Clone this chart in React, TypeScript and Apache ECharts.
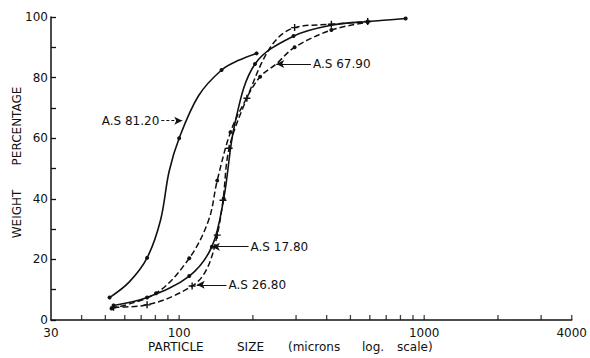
import React, { useEffect, useRef } from "react";
import * as echarts from "echarts";

// Minor tick positions on the log x axis (microns)
const xTickValues = [40, 50, 60, 70, 80, 90, 100, 200, 300, 400, 500, 600, 700, 800, 900, 1000, 2000, 3000, 4000];

// Cumulative weight percentage vs particle size (microns); third value: 1 = plotted marker, 0 = curve reading
const as8120: number[][] = [[52, 7.4, 1], [62.5, 12.5, 0], [74, 20.5, 1], [84, 33, 0], [91, 49, 0], [100, 60, 1], [120, 74, 0], [149, 82.5, 1], [175, 85.7, 0], [207, 88, 1]];
const as1780: number[][] = [[54, 4.8, 1], [74, 7.4, 1], [110, 14.5, 1], [136, 24.2, 1], [152, 40, 1], [169, 65, 0], [204, 84.5, 1], [293, 93.7, 1], [418, 97.3, 0], [588, 98.5, 1], [840, 99.5, 1]];
const as2680: number[][] = [[54, 4.2, 1], [74, 5, 1], [113, 11.2, 1], [130, 17, 0], [143, 28, 1], [151, 39.5, 1], [160, 56.7, 1], [189, 73.2, 1], [238, 90.5, 0], [296, 96.5, 1], [418, 97.6, 1], [588, 98.5, 1]];
const as6790: number[][] = [[53, 3.8, 1], [80.5, 8.8, 1], [110, 20.4, 1], [132, 33, 0], [143, 46, 1], [162, 62, 1], [185, 72, 0], [214, 80.3, 1], [249, 84.5, 0], [296, 90, 1], [418, 95.7, 1], [588, 98.3, 1]];

const names = ["A.S 81.20", "A.S 17.80", "A.S 26.80", "A.S 67.90"];
const xTitleWords = ["PARTICLE", "SIZE", "(microns", "log.", "scale)"];
const yTitleWords = ["WEIGHT", "PERCENTAGE"];

const FONT = "DejaVu Sans";
const INK = "#111";
const PLUS = "path://M4,0H6V4H10V6H6V10H4V6H0V4H4Z";

export default function App() {
  const ref = useRef<HTMLDivElement>(null);
  useEffect(() => {
    if (!ref.current) return;
    const chart = echarts.init(ref.current, undefined, { renderer: "svg" });
    const labelStyle = { color: INK, fontFamily: FONT, fontSize: 12 };
    const toData = (arr: number[][], sym: string) =>
      arr.map((p) => ({ value: [p[0], p[1]], symbol: p[2] ? sym : "none" }));
    const arrowLine = (from: number[], to: number[], text: string, pos: "start" | "end", dashed: boolean) => ({
      silent: true,
      symbolSize: [6, 8],
      lineStyle: { color: INK, width: 1, type: dashed ? [3, 2] : "solid" },
      label: { show: true, position: pos, formatter: text, distance: 2, ...labelStyle },
      data: [[
        { coord: from, symbol: pos === "end" ? "arrow" : "none" },
        { coord: to, symbol: pos === "end" ? "none" : "arrow" },
      ]],
    });
    const xTitleLefts = [148, 237, 288, 362, 397];
    chart.setOption({
      animation: false,
      grid: { left: 51, right: 14, top: 17, bottom: 38 },
      xAxis: {
        type: "log",
        logBase: 10,
        min: 30,
        max: 4000,
        splitLine: { show: false },
        axisLine: { lineStyle: { color: INK, width: 1.5 } },
        axisTick: { show: false },
        axisLabel: { color: INK, fontFamily: FONT, fontSize: 12, margin: 7, formatter: (v: number) => String(Math.round(v)) },
      },
      yAxis: {
        type: "value",
        min: 0,
        max: 100,
        interval: 10,
        splitLine: { show: false },
        axisLine: { show: true, lineStyle: { color: INK, width: 1.5 } },
        axisTick: { show: true, inside: true, length: 5, lineStyle: { color: INK, width: 1.3 } },
        axisLabel: { color: INK, fontFamily: FONT, fontSize: 12, margin: 3, formatter: (v: number) => (v % 20 === 0 ? String(v) : "") },
      },
      graphic: [
        ...xTitleWords.map((w, i) => ({
          type: "text", left: xTitleLefts[i], top: 341,
          style: { text: w, fill: INK, font: `12px ${FONT}` },
        })),
        { type: "text", x: 17, y: 214, rotation: Math.PI / 2, style: { text: yTitleWords[0], fill: INK, font: `12px ${FONT}`, align: "center", verticalAlign: "middle" } },
        { type: "text", x: 17, y: 126, rotation: Math.PI / 2, style: { text: yTitleWords[1], fill: INK, font: `12px ${FONT}`, align: "center", verticalAlign: "middle" } },
      ],
      series: [
        {
          name: names[0], type: "line", data: toData(as8120, "circle"), smooth: 0.35,
          symbolSize: 4, itemStyle: { color: INK },
          lineStyle: { color: INK, width: 1.6 },
          markLine: arrowLine([84.6, 65.8], [103, 65.8], names[0], "start", true),
        },
        {
          name: names[1], type: "line", data: toData(as1780, "circle"), smooth: 0.35,
          symbolSize: 4, itemStyle: { color: INK },
          lineStyle: { color: INK, width: 1.6 },
          markLine: arrowLine([136, 24.2], [192, 24.2], names[1], "end", false),
        },
        {
          name: names[2], type: "line", data: toData(as2680, PLUS), smooth: 0.35,
          symbolSize: 7, itemStyle: { color: INK },
          lineStyle: { color: INK, width: 1.5, type: [6, 3] },
          markLine: arrowLine([118, 11.6], [156, 11.6], names[2], "end", false),
        },
        {
          name: names[3], type: "line", data: toData(as6790, "circle"), smooth: 0.35,
          symbolSize: 4, itemStyle: { color: INK },
          lineStyle: { color: INK, width: 1.5, type: [6, 3] },
          markLine: arrowLine([249, 84.5], [345, 84.5], names[3], "end", false),
        },
        {
          name: "ticks", type: "scatter", silent: true,
          data: xTickValues.map((v) => [v, 0]),
          symbol: "rect", symbolSize: [1.3, 5], symbolOffset: [0, -2.5],
          itemStyle: { color: INK },
        },
      ],
    });
    return () => chart.dispose();
  }, []);
  return <div ref={ref} style={{ position: "fixed", left: 0, top: 0, width: 590, height: 358, background: "#fff" }} />;
}
